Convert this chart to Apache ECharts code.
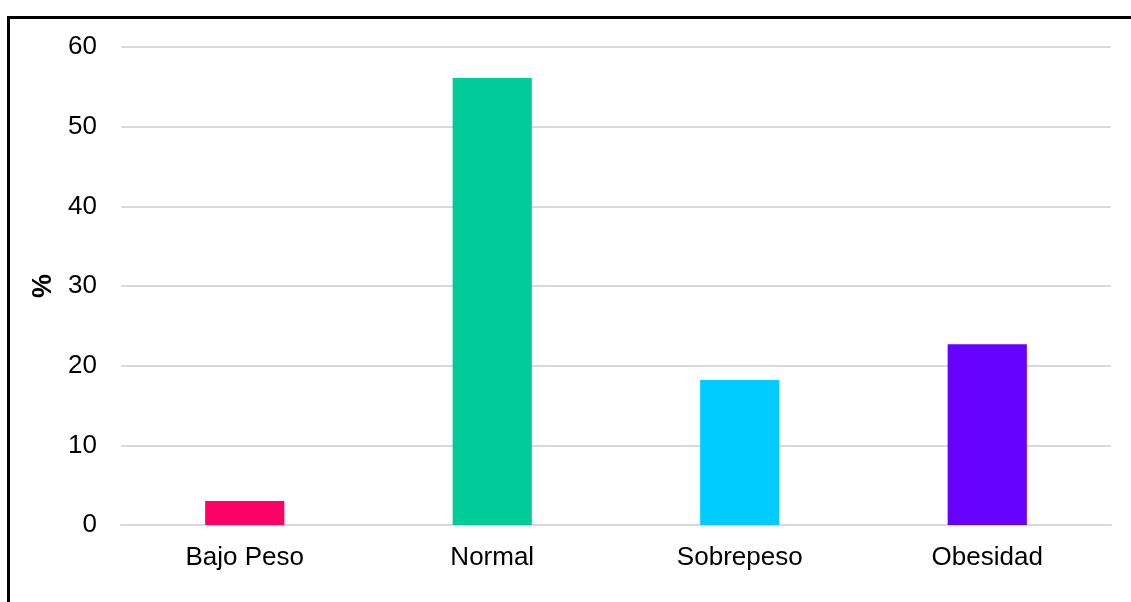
<!DOCTYPE html>
<html>
<head>
<meta charset="utf-8">
<script src="https://cdn.jsdelivr.net/npm/echarts@6/dist/echarts.min.js"></script>
<style>
  html, body { margin: 0; padding: 0; background: #fff; }
  #main { width: 1131px; height: 602px; }
</style>
</head>
<body>
<div id="main"></div>
<script>
  var categories = ['Bajo Peso', 'Normal', 'Sobrepeso', 'Obesidad']
  var values = [3.0, 56.1, 18.2, 22.7]
  var barColors = ['#FF0066', '#00CC99', '#00CCFF', '#6600FF']
  var yTicks = { min: 0, max: 60, interval: 10 }

  var myChart = echarts.init(document.getElementById('main'))
  var font = 'Liberation Sans, Arial, sans-serif'
  var option = {
    animation: false,
    graphic: [{
      type: 'rect',
      shape: { x: 8.5, y: 17.5, width: 1300, height: 800 },
      style: { fill: 'none', stroke: '#000', lineWidth: 3 },
      z: 100
    }],
    grid: { left: 121, right: 20, top: 47, bottom: 77 },
    xAxis: {
      type: 'category',
      data: categories,
      axisLine: { show: true, lineStyle: { color: '#d9d9d9', width: 2 } },
      axisTick: { show: false },
      axisLabel: { color: '#000', fontSize: 26, fontFamily: font, margin: 20 }
    },
    yAxis: {
      type: 'value',
      min: yTicks.min,
      max: yTicks.max,
      interval: yTicks.interval,
      name: '%',
      nameLocation: 'middle',
      nameGap: 64,
      nameTextStyle: { color: '#000', fontSize: 27, fontWeight: 'bold', fontFamily: font },
      axisLine: { show: false },
      axisTick: { show: false },
      axisLabel: { color: '#000', fontSize: 26, fontFamily: font, margin: 24 },
      splitLine: { lineStyle: { color: '#d9d9d9', width: 2 } }
    },
    series: [{
      type: 'bar',
      barWidth: '32%',
      data: values.map(function (v, i) {
        return { value: v, itemStyle: { color: barColors[i] } }
      })
    }]
  }
  myChart.setOption(option)
</script>
</body>
</html>
